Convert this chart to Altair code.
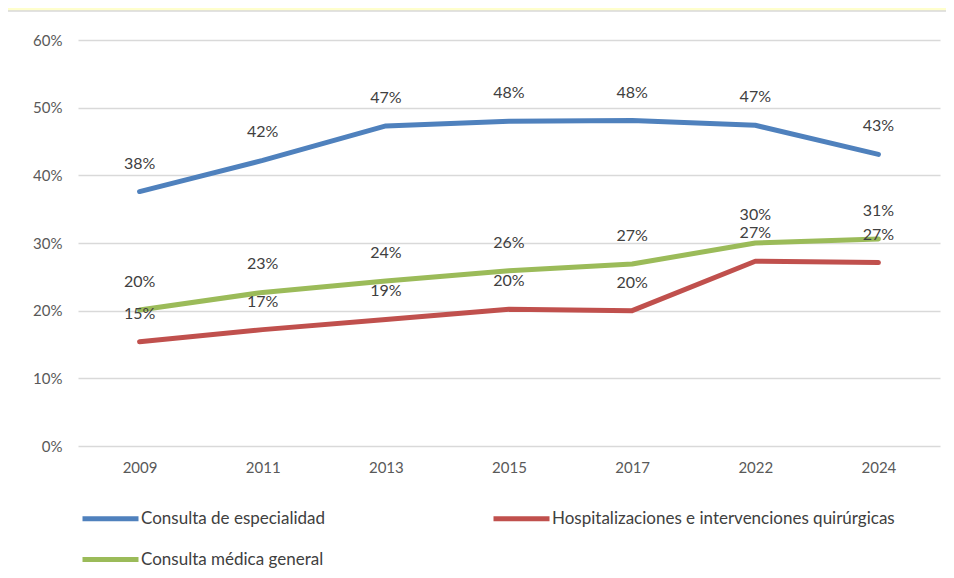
import altair as alt
import pandas as pd

years = ["2009", "2011", "2013", "2015", "2017", "2022", "2024"]
series_names = [
    "Consulta de especialidad",
    "Hospitalizaciones e intervenciones quirúrgicas",
    "Consulta médica general",
]
especialidad = [0.376, 0.422, 0.473, 0.480, 0.481, 0.474, 0.431]
hospitalizaciones = [0.154, 0.172, 0.187, 0.202, 0.200, 0.273, 0.271]
general = [0.201, 0.227, 0.244, 0.259, 0.269, 0.300, 0.306]
colors = ["#4F81BD", "#C0504D", "#9BBB59"]
title_text = "2009- 2024"

rows = []
for name, vals in zip(series_names, [especialidad, hospitalizaciones, general]):
    for y, v in zip(years, vals):
        rows.append({"year": y, "serie": name, "value": v})
df = pd.DataFrame(rows)

FONT = "Lato"
W, H = 862, 406

x_enc = alt.X("year:O", sort=years, scale=alt.Scale(type="point", padding=0.5),
              axis=alt.Axis(title=None, labelAngle=0, ticks=False, domain=False,
                            labelPadding=14, labelFontSize=15, labelColor="#595959",
                            labelFont=FONT, grid=False))
y_enc = alt.Y("value:Q", scale=alt.Scale(domain=[0, 0.6], nice=False),
              axis=alt.Axis(title=None, values=[0, 0.1, 0.2, 0.3, 0.4, 0.5, 0.6],
                            format=".0%", ticks=False, domain=False, labelPadding=16,
                            labelFontSize=15, labelColor="#595959", labelFont=FONT,
                            grid=True, gridColor="#D9D9D9", gridWidth=1.5))
color_enc = alt.Color("serie:N", sort=series_names,
                      scale=alt.Scale(domain=series_names, range=colors),
                      legend=alt.Legend(title=None, orient="none", legendX=2, legendY=448,
                                        columns=2, direction="horizontal",
                                        columnPadding=158, rowPadding=-21,
                                        symbolType="stroke", symbolSize=3136,
                                        symbolStrokeWidth=5, labelOffset=0,
                                        labelFontSize=17, labelColor="#404040",
                                        labelFont=FONT, labelLimit=500))

top_strip = alt.Chart(alt.Data(values=[{"a": 1}])).mark_rect(
    fill="#FFFFCC", stroke="#D9D9D9", strokeWidth=1.5, clip=False
).encode(x=alt.value(-90), x2=alt.value(900), y=alt.value(-60), y2=alt.value(-29))

lines = alt.Chart(df).mark_line(strokeWidth=5, strokeCap="round", strokeJoin="round").encode(
    x=x_enc, y=y_enc, color=color_enc
)

labels = alt.Chart(df).mark_text(dy=-28, fontSize=16, color="#404040", font=FONT).encode(
    x=alt.X("year:O", sort=years), y="value:Q", text=alt.Text("value:Q", format=".0%")
)

chart = alt.layer(top_strip, lines, labels).properties(
    width=W, height=H,
    background="white",
    padding={"left": 70, "top": 32, "right": 6, "bottom": 124},
    autosize=alt.AutoSizeParams(type="none"),
    title=alt.TitleParams(title_text, fontSize=17, font=FONT, fontWeight="bold",
                          color="#000000", anchor="middle", offset=-8),
).configure_view(stroke=None)

chart.save("out.html", embed_options={"renderer": "svg", "actions": False})
